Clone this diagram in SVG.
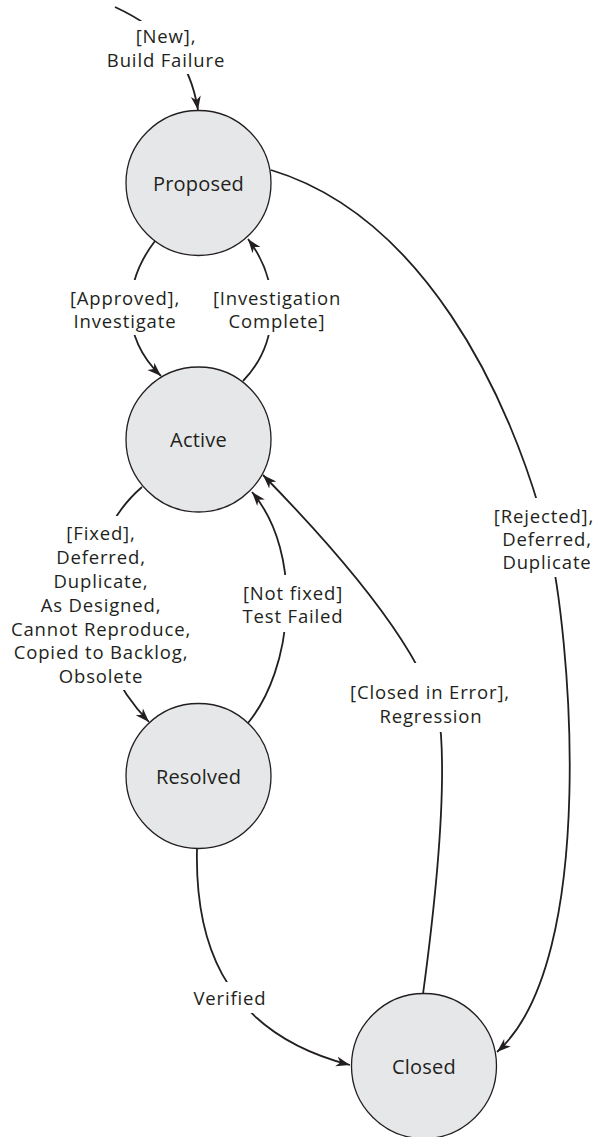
<svg xmlns="http://www.w3.org/2000/svg" width="600" height="1137" viewBox="0 0 600 1137">
<style>
.node circle{fill:#e6e7e8;stroke:#231f20;stroke-width:1.3}
.node text{font-family:"Open Sans","Liberation Sans",sans-serif;font-size:20px;letter-spacing:0.2px;fill:#231f20;text-anchor:middle;dominant-baseline:central}
.edge{fill:none;stroke:#231f20;stroke-width:1.8;marker-end:url(#arr)}
.lbl{font-family:"Open Sans","Liberation Sans",sans-serif;font-size:18.5px;letter-spacing:0.85px;fill:#231f20;text-anchor:middle;dominant-baseline:central}
</style>
<defs>
<marker id="arr" markerUnits="userSpaceOnUse" markerWidth="16" markerHeight="12" refX="14" refY="5" orient="auto" viewBox="0 0 16 12">
<path d="M0,0 L14,5 L0,10 L4,5 z" fill="#231f20"/>
</marker>
<mask id="lblmask" maskUnits="userSpaceOnUse" x="0" y="0" width="600" height="1137">
<rect x="0" y="0" width="600" height="1137" fill="#fff"/>
<rect x="120" y="21" width="95" height="53" fill="#000"/>
<rect x="60" y="280" width="130" height="55" fill="#000"/>
<rect x="205" y="280" width="143" height="55" fill="#000"/>
<rect x="0" y="516" width="200" height="174" fill="#000"/>
<rect x="235" y="575" width="115" height="57" fill="#000"/>
<rect x="345" y="663" width="170" height="69" fill="#000"/>
<rect x="480" y="498" width="130" height="79" fill="#000"/>
<rect x="185" y="982" width="90" height="31" fill="#000"/>
</mask>
</defs>
<rect width="600" height="1137" fill="#fff"/>
<g id="node-proposed" class="node"><circle cx="198.5" cy="183" r="72.5"/><text x="198.5" y="183">Proposed</text></g>
<g id="node-active" class="node"><circle cx="198.5" cy="439.5" r="72.5"/><text x="198.5" y="439.5">Active</text></g>
<g id="node-resolved" class="node"><circle cx="198.5" cy="776" r="72.5"/><text x="198.5" y="776">Resolved</text></g>
<g id="node-closed" class="node"><circle cx="424" cy="1066" r="72.5"/><text x="424" y="1066">Closed</text></g>
<g id="connectors" mask="url(#lblmask)">
<path class="edge" d="M115,7 C165,30 190,60 198,110"/>
<path class="edge" d="M155,241 C125,280 118,335 161,376"/>
<path class="edge" d="M243,381 C278,345 283,285 248,239"/>
<path class="edge" d="M142,487 C75,545 80,650 149,722"/>
<path class="edge" d="M248,723 C292,670 305,555 252,492"/>
<path class="edge" d="M423,994 C433,920 446,810 441,735 C438,690 400,615 263,475"/>
<path class="edge" d="M271,170 C420,215 510,390 548,540 C570,628 600,960 497,1052"/>
<path class="edge" d="M197,848 C195,930 215,1030 350,1065"/>
</g>
<g id="labels">
<text class="lbl" x="166" y="35">[New],</text>
<text class="lbl" x="166" y="59">Build Failure</text>
<text class="lbl" x="125" y="297">[Approved],</text>
<text class="lbl" x="125" y="320">Investigate</text>
<text class="lbl" x="277" y="297">[Investigation</text>
<text class="lbl" x="277" y="320">Complete]</text>
<text class="lbl" x="101" y="532">[Fixed],</text>
<text class="lbl" x="101" y="556">Deferred,</text>
<text class="lbl" x="101" y="580">Duplicate,</text>
<text class="lbl" x="101" y="604">As Designed,</text>
<text class="lbl" x="101" y="628">Cannot Reproduce,</text>
<text class="lbl" x="101" y="651">Copied to Backlog,</text>
<text class="lbl" x="101" y="675">Obsolete</text>
<text class="lbl" x="293" y="592">[Not fixed]</text>
<text class="lbl" x="293" y="615">Test Failed</text>
<text class="lbl" x="430" y="691">[Closed in Error],</text>
<text class="lbl" x="431" y="715">Regression</text>
<text class="lbl" x="544" y="515">[Rejected],</text>
<text class="lbl" x="547" y="538">Deferred,</text>
<text class="lbl" x="547" y="561">Duplicate</text>
<text class="lbl" x="230" y="997">Verified</text>
</g>
</svg>
